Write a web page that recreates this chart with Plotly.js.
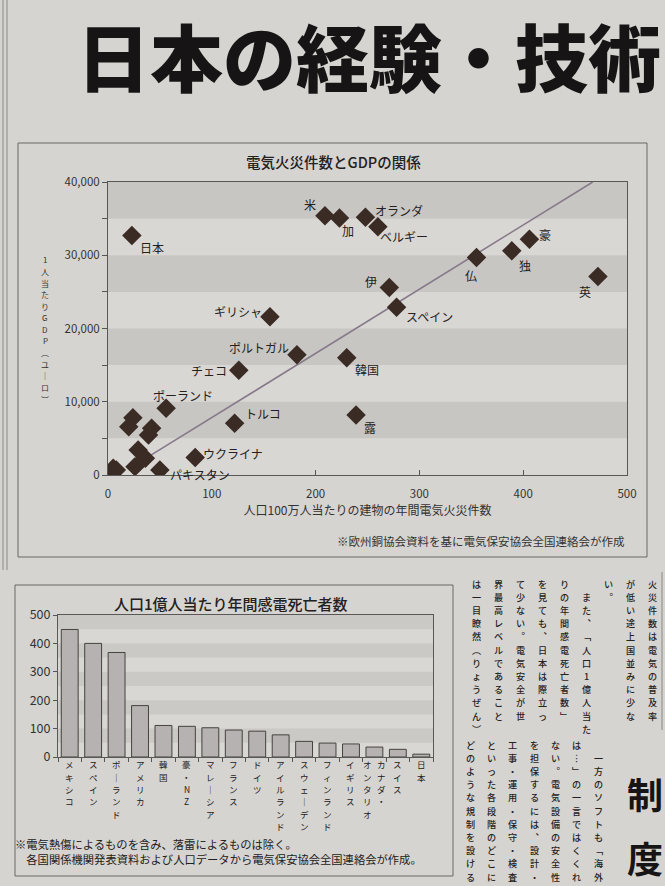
<!DOCTYPE html>
<html><head><meta charset="utf-8">
<script src="https://cdn.plot.ly/plotly-3.0.1.min.js"></script>
<style>html,body{margin:0;padding:0;background:#d6d4d0;}#chart{width:665px;height:886px;}</style>
</head><body><div id="chart"></div>
<script>
// ---------- text ----------
const headline = "日本の経験・技術";
const scatterTitle = "電気火災件数とGDPの関係";
const scatterXTitle = "人口100万人当たりの建物の年間電気火災件数";
const scatterYTitle = "1人当たりGDP（ユーロ）";
const scatterSource = "※欧州銅協会資料を基に電気保安協会全国連絡会が作成";
const barTitle = "人口1億人当たり年間感電死亡者数";
const barNote1 = "※電気熱傷によるものを含み、落雷によるものは除く。";
const barNote2 = "各国関係機関発表資料および人口データから電気保安協会全国連絡会が作成。";

// ---------- scatter data ----------
const countries = ["日本","米","加","オランダ","ベルギー","仏","独","豪","英","伊","スペイン","ギリシャ","ポルトガル","韓国","チェコ","ポーランド","トルコ","露","ウクライナ","パキスタン","","","","","","","","","",""];
const fireRate = [23,209,223,248,260,355,389,406,472,271,278,156,182,230,126,56,122,239,84,50,24,20,42,39,29,36,26,5,2,8];
const gdpPerCapita = [32700,35400,35100,35200,33900,29700,30600,32200,27100,25600,22900,21600,16400,16000,14300,9100,7060,8200,2400,680,7830,6600,6370,5460,3400,2280,1140,910,230,680];
const trendX = [39,467];
const trendY = [2500,40000];
const xTicks = [0,100,200,300,400,500];
const yTicks = [0,10000,20000,30000,40000];

// ---------- bar data ----------
const deathCats = ["メキシコ","スペイン","ポーランド","アメリカ","韓国","豪・NZ","マレーシア","フランス","ドイツ","アイルランド","スウェーデン","フィンランド","イギリス","カナダ・オンタリオ","スイス","日本"];
const deathRate = [449,400,368,181,111,108,103,95,91,78,55,49,46,35,27,10];
const barYTicks = [0,100,200,300,400,500];

// ---------- body text (vertical columns, right to left) ----------
const bodyUpper = ["火災件数は電気の普及率","が低い途上国並みに少な","い。","　また、「人口1億人当た","りの年間感電死亡者数」","を見ても、日本は際立っ","て少ない。電気安全が世","界最高レベルであること","は一目瞭然（りょうぜん）"];
const bodyLower = ["　一方のソフトも「海外","は…」の一言ではくくれ","ない。電気設備の安全性","を担保するには、設計・","工事・運用・保守・検査","といった各段階のどこに","どのような規制を設ける"];
const sideHead = ["制","度"];

// ---------- styling ----------
const W = 665, H = 886;
const FONT = '"Noto Sans CJK JP", "Noto Sans", sans-serif';
const INK = '#232020';
const px = v => v / W;
const py = v => 1 - v / H;

const labelOffsets = [[20,12],[-15,-11],[9,13],[34,-7],[26,10],[-5,18],[13,15],[16,-5],[-13,15],[-18,-6],[33,9],[-32,-5],[-38,-7],[20,12],[-30,0],[17,-13],[28,-10],[14,13],[38,-4],[40,4]];

const vertMap = {"ー":"｜","、":"︑","。":"︒","「":"﹁","」":"﹂","（":"︵","）":"︶","…":"︙"};

const annotations = [];

// vertical writing: one annotation per character, stacked downward
function vcol(text, xval, xref, topPx, pitch, size, color, weight, xshift) {
  Array.from(text).forEach((ch, i) => {
    if (ch === "　") return;
    annotations.push({
      x: xval, xref: xref, y: py(topPx + pitch * (i + 0.5)), yref: 'paper',
      text: vertMap[ch] || ch, showarrow: false, borderpad: 0,
      xanchor: 'center', yanchor: 'middle', xshift: xshift || 0,
      font: {family: FONT, size: size, color: color || INK, weight: weight || 400}
    });
  });
}

// headline
annotations.push({x: px(369), xref: 'paper', y: py(54), yref: 'paper', text: headline,
  showarrow: false, xanchor: 'center', yanchor: 'middle', borderpad: 0,
  font: {family: FONT, size: 73, color: '#161414', weight: 900}});

// scatter title, source
annotations.push({x: px(333), xref: 'paper', y: py(162), yref: 'paper', text: scatterTitle, showarrow: false,
  xanchor: 'center', yanchor: 'middle', font: {family: FONT, size: 14.5, color: INK, weight: 500}});
annotations.push({x: px(627), xref: 'paper', y: py(541), yref: 'paper', text: scatterSource, showarrow: false,
  xanchor: 'right', yanchor: 'middle', font: {family: FONT, size: 11.5, color: '#333'}});
// y title (vertical writing)
vcol(scatterYTitle, px(45), 'paper', 254, 11.6, 8, '#333', 400);

// point labels
countries.forEach((c, i) => {
  if (!c) return;
  const o = labelOffsets[i];
  annotations.push({x: fireRate[i], y: gdpPerCapita[i], xref: 'x', yref: 'y', text: c, showarrow: false,
    xanchor: 'center', yanchor: 'middle', xshift: o[0], yshift: -o[1],
    font: {family: FONT, size: 12, color: INK}});
});

// bar title, notes
annotations.push({x: px(231), xref: 'paper', y: py(603), yref: 'paper', text: barTitle, showarrow: false,
  xanchor: 'center', yanchor: 'middle', font: {family: FONT, size: 15, color: INK, weight: 500}});
annotations.push({x: px(14), xref: 'paper', y: py(835), yref: 'paper', text: barNote1 + "<br>　" + barNote2,
  showarrow: false, xanchor: 'left', yanchor: 'top', align: 'left', borderpad: 0,
  font: {family: FONT, size: 11.3, color: INK}});

// bar category vertical labels
deathCats.forEach((c, i) => {
  const dot = c.indexOf("・");
  const cols = (c.length > 6 && dot > 0) ? [c.slice(0, dot + 1), c.slice(dot + 1)] : [c];
  cols.forEach((col, j) => {
    const shift = cols.length === 1 ? 0 : (j === 0 ? 7 : -7);
    vcol(col, c, 'x2', 758, 12.4, 8.5, INK, 400, shift);
  });
});

// body text
bodyUpper.forEach((col, i) => vcol(col, px(652 - i * 22), 'paper', 577, 13.2, 9.1, '#262222', 500));
bodyLower.forEach((col, i) => vcol(col, px(598 - i * 21.3), 'paper', 738, 13.2, 9.1, '#262222', 500));
annotations.push({x: px(645), xref: 'paper', y: py(793), yref: 'paper', text: sideHead[0], showarrow: false,
  xanchor: 'center', yanchor: 'middle', borderpad: 0, font: {family: FONT, size: 36, color: '#161414', weight: 700}});
annotations.push({x: px(645), xref: 'paper', y: py(857), yref: 'paper', text: sideHead[1], showarrow: false,
  xanchor: 'center', yanchor: 'middle', borderpad: 0, font: {family: FONT, size: 36, color: '#161414', weight: 700}});

// ---------- shapes ----------
const shapes = [];
[[5000,10000],[15000,20000],[25000,30000],[35000,40000]].forEach(b => shapes.push({type: 'rect', layer: 'below',
  xref: 'x domain', yref: 'y', x0: 0, x1: 1, y0: b[0], y1: b[1], fillcolor: '#c8c6c3', line: {width: 0}}));
[[50,100],[150,200],[250,300],[350,400],[450,500]].forEach(b => shapes.push({type: 'rect', layer: 'below',
  xref: 'x2 domain', yref: 'y2', x0: 0, x1: 1, y0: b[0], y1: b[1], fillcolor: '#cbc9c6', line: {width: 0}}));
// frames
shapes.push({type: 'rect', xref: 'paper', yref: 'paper', x0: px(18), x1: px(647), y0: py(557), y1: py(143),
  line: {color: '#6a6866', width: 1}, fillcolor: 'rgba(0,0,0,0)'});
shapes.push({type: 'rect', xref: 'paper', yref: 'paper', x0: px(15), x1: px(453), y0: py(876), y1: py(585),
  line: {color: '#6a6866', width: 1}, fillcolor: 'rgba(0,0,0,0)'});
// page rules
shapes.push({type: 'line', xref: 'paper', yref: 'paper', x0: px(3), x1: px(3), y0: py(0), y1: py(570), line: {color: '#8a8884', width: 1}});
shapes.push({type: 'line', xref: 'paper', yref: 'paper', x0: px(7), x1: px(7), y0: py(0), y1: py(570), line: {color: '#8a8884', width: 1}});
shapes.push({type: 'line', xref: 'paper', yref: 'paper', x0: px(662), x1: px(662), y0: py(572), y1: py(730), line: {color: '#8a8884', width: 1}});

// ---------- traces ----------
const traces = [
  {type: 'scatter', mode: 'lines', x: trendX, y: trendY, xaxis: 'x', yaxis: 'y',
   line: {color: '#86798a', width: 1.6}, hoverinfo: 'skip', showlegend: false},
  {type: 'scatter', mode: 'markers', x: fireRate, y: gdpPerCapita, text: countries, xaxis: 'x', yaxis: 'y',
   marker: {symbol: 'diamond', size: 15, color: '#3a2b25', line: {width: 0}}, showlegend: false},
  {type: 'bar', x: deathCats, y: deathRate, xaxis: 'x2', yaxis: 'y2',
   marker: {color: '#b6b2b1', line: {color: '#45423f', width: 1}}, showlegend: false}
];

const axisFont = {family: FONT, size: 11.5, color: '#333'};
const layout = {
  width: W, height: H, margin: {l: 0, r: 0, t: 0, b: 0},
  paper_bgcolor: '#d6d4d0', plot_bgcolor: '#d9d7d3',
  showlegend: false, bargap: 0.28,
  xaxis: {domain: [px(108), px(627)], range: [0, 500], anchor: 'y', tickvals: xTicks,
    ticks: 'inside', ticklen: 5, tickcolor: '#555', showline: true, mirror: true, linecolor: '#5a5856', linewidth: 1,
    showgrid: false, zeroline: false, tickfont: axisFont, ticklabelstandoff: 8,
    title: {text: scatterXTitle, font: {family: FONT, size: 12, color: '#333'}, standoff: 6}},
  yaxis: {domain: [py(475), py(182)], range: [0, 40000], anchor: 'x', tickvals: yTicks, tickformat: ',d',
    ticks: 'outside', ticklen: 5, tickcolor: '#555', showline: true, mirror: true, linecolor: '#5a5856', linewidth: 1,
    minor: {dtick: 5000, ticks: 'outside', ticklen: 5, tickcolor: '#555', showgrid: false},
    showgrid: false, zeroline: false, tickfont: axisFont},
  xaxis2: {domain: [px(58), px(433)], anchor: 'y2', type: 'category', range: [-0.5, deathCats.length - 0.5],
    showticklabels: false, ticks: 'outside', tickson: 'boundaries', ticklen: 4, tickcolor: '#555',
    showline: true, mirror: true, linecolor: '#5a5856', linewidth: 1, showgrid: false},
  yaxis2: {domain: [py(757), py(615)], anchor: 'x2', range: [0, 500], tickvals: barYTicks,
    ticks: 'outside', ticklen: 4, tickcolor: '#555', showline: true, mirror: true, linecolor: '#5a5856', linewidth: 1,
    showgrid: false, zeroline: false, tickfont: {family: FONT, size: 12.5, color: '#333'}},
  annotations: annotations,
  shapes: shapes
};

Plotly.newPlot('chart', traces, layout, {staticPlot: true, displayModeBar: false});
</script>
</body></html>
